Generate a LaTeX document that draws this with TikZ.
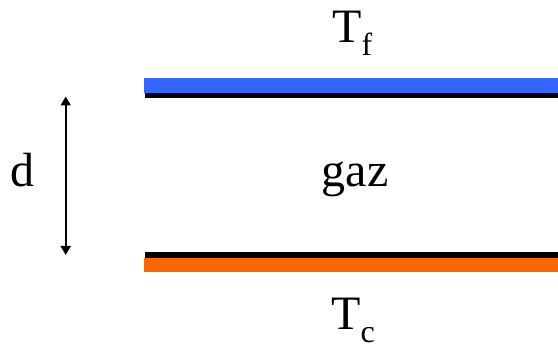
\documentclass[tikz,border=0pt]{standalone}
\usepackage{fontspec}
\setmainfont{Liberation Serif}
\usetikzlibrary{arrows.meta}
\definecolor{coldblue}{HTML}{3366FF}
\definecolor{hotorange}{HTML}{FF6600}
\tikzset{
  lbl/.style={inner sep=0pt, anchor=base west, font=\fontsize{48}{48}\selectfont},
  plate/.style={draw=none, inner sep=0pt, anchor=south west},
}
\newcommand{\subsc}[1]{\raisebox{-13pt}{\fontsize{32}{32}\selectfont #1}}
\begin{document}
\begin{tikzpicture}[x=1pt,y=1pt]
\useasboundingbox (0,0) rectangle (558,345);
% plates
\node[plate, fill=coldblue, minimum width=414pt, minimum height=15pt] (topcol) at (144,252) {};
\node[plate, fill=black, minimum width=413pt, minimum height=5pt] (topblk) at (145,247) {};
\node[plate, fill=black, minimum width=413pt, minimum height=6pt] (botblk) at (145,86.7) {};
\node[plate, fill=hotorange, minimum width=414pt, minimum height=14pt] (botcol) at (144,73) {};
% labels
\node[lbl] (tf) at (332,302) {T\subsc{f}};
\node[lbl] (tc) at (331,15) {T\subsc{c}};
\node[lbl] (gaz) at (321.5,158) {gaz};
\node[lbl] (d) at (10.5,158) {d};
% distance arrow
\coordinate (atop) at (65.7,248.5);
\coordinate (abot) at (65.7,90);
\draw[line width=1.8pt, {Triangle[length=9pt,width=10pt]}-{Triangle[length=9pt,width=10pt]}] (atop) -- (abot);
\end{tikzpicture}
\end{document}
